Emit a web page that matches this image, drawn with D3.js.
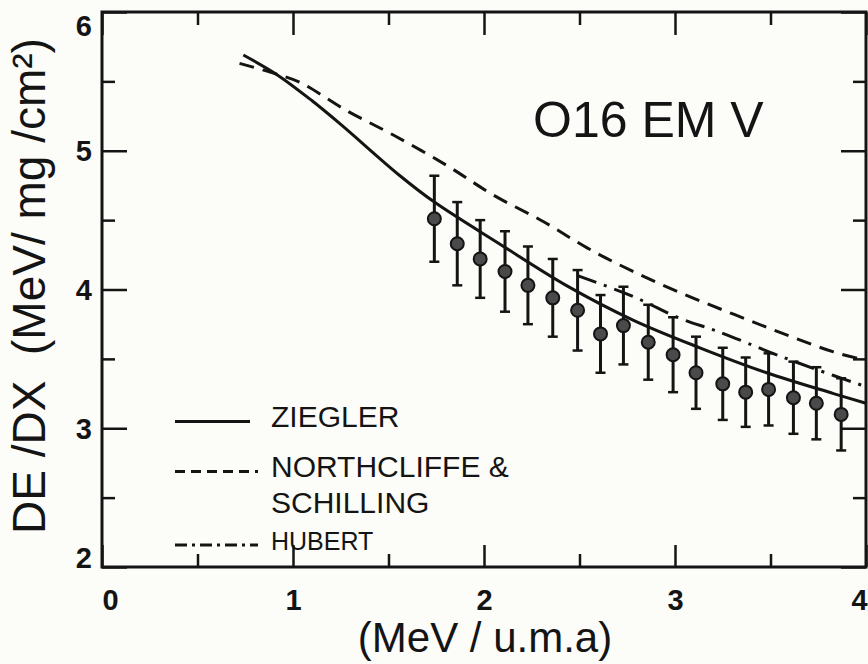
<!DOCTYPE html>
<html>
<head>
<meta charset="utf-8">
<script src="https://cdn.jsdelivr.net/npm/d3@7"></script>
<style>
  body { margin: 0; background: #fcfcf8; }
  svg { display: block; }
</style>
</head>
<body>
<div id="chart"></div>
<script>
// energy (MeV / u.m.a) and stopping power values
var zieglerX = [0.74, 0.92, 1.10, 1.25, 1.56, 1.74, 2.08, 2.43, 2.78, 3.13, 3.48, 3.83, 4.0];
var zieglerY = [5.69, 5.545, 5.36, 5.19, 4.82, 4.63, 4.33, 4.03, 3.78, 3.58, 3.40, 3.25, 3.18];

var northX = [0.72, 0.92, 1.04, 1.28, 1.53, 1.81, 2.05, 2.31, 2.54, 2.78, 3.04, 3.31, 3.57, 3.83, 4.0];
var northY = [5.63, 5.55, 5.49, 5.29, 5.11, 4.89, 4.68, 4.49, 4.30, 4.13, 3.97, 3.82, 3.68, 3.55, 3.49];

var hubertX = [2.49, 2.78, 3.03, 3.22, 3.55, 3.83, 4.0];
var hubertY = [4.10, 3.95, 3.79, 3.70, 3.52, 3.38, 3.30];

var expX = [1.74, 1.86, 1.98, 2.11, 2.23, 2.36, 2.49, 2.61, 2.73, 2.86, 2.99, 3.11, 3.25, 3.37, 3.49, 3.62, 3.74, 3.87];
var expY = [4.51, 4.33, 4.22, 4.13, 4.03, 3.94, 3.85, 3.68, 3.74, 3.62, 3.53, 3.40, 3.32, 3.26, 3.28, 3.22, 3.18, 3.10];
var expErr = [0.31, 0.30, 0.28, 0.29, 0.28, 0.28, 0.29, 0.28, 0.28, 0.27, 0.27, 0.26, 0.26, 0.25, 0.26, 0.26, 0.26, 0.26];

var xMajor = [0, 1, 2, 3, 4];
var xMinor = [0.5, 1.5, 2.5, 3.5];
var yMajor = [2, 3, 4, 5, 6];
var yMinor = [2.5, 3.5, 4.5, 5.5];

var legendLabels = ["ZIEGLER", "NORTHCLIFFE &", "SCHILLING", "HUBERT"];

var width = 868,
    height = 664;

var margin = { top: 12, right: 2, bottom: 97, left: 102 };

var font = "'Liberation Sans', Arial, sans-serif";

var svg = d3.select("#chart")
    .append("svg")
    .attr("width", width)
    .attr("height", height)
    .style("font-family", font);

var x = d3.scaleLinear()
    .domain([0, 4])
    .range([margin.left, width - margin.right]);

var y = d3.scaleLinear()
    .domain([2, 6])
    .range([height - margin.bottom, margin.top]);

var ink = "#141414";

// axes, ticks pointing inward on all four sides
function styleAxis(g) {
    g.select(".domain").remove();
    g.selectAll(".tick line").attr("stroke", ink).attr("stroke-width", 2.5);
    g.selectAll(".tick text")
        .attr("fill", ink)
        .attr("font-family", font)
        .attr("font-weight", "bold")
        .attr("font-size", "29px");
}

svg.append("g")
    .attr("transform", "translate(0," + y(2) + ")")
    .call(d3.axisBottom(x).tickValues(xMajor).tickSize(-22).tickPadding(22).tickFormat(d3.format("d")))
    .call(styleAxis)
    .call(g => g.selectAll(".tick text").attr("dx", d => d === 0 ? 8 : d === 4 ? -7 : 0));

svg.append("g")
    .attr("transform", "translate(0," + y(2) + ")")
    .call(d3.axisBottom(x).tickValues(xMinor).tickSize(-13).tickFormat(""))
    .call(styleAxis);

svg.append("g")
    .attr("transform", "translate(0," + y(6) + ")")
    .call(d3.axisTop(x).tickValues(xMajor).tickSize(-23).tickFormat(""))
    .call(styleAxis);

svg.append("g")
    .attr("transform", "translate(0," + y(6) + ")")
    .call(d3.axisTop(x).tickValues(xMinor).tickSize(-13).tickFormat(""))
    .call(styleAxis);

svg.append("g")
    .attr("transform", "translate(" + x(0) + ",0)")
    .call(d3.axisLeft(y).tickValues(yMajor).tickSize(-25).tickPadding(10).tickFormat(d3.format("d")))
    .call(styleAxis)
    .call(g => g.selectAll(".tick text").attr("dy", d => d === 6 ? "0.8em" : d === 2 ? "0.0em" : "0.35em"));

svg.append("g")
    .attr("transform", "translate(" + x(0) + ",0)")
    .call(d3.axisLeft(y).tickValues(yMinor).tickSize(-13).tickFormat(""))
    .call(styleAxis);

svg.append("g")
    .attr("transform", "translate(" + x(4) + ",0)")
    .call(d3.axisRight(y).tickValues(yMajor).tickSize(-25).tickFormat(""))
    .call(styleAxis);

svg.append("g")
    .attr("transform", "translate(" + x(4) + ",0)")
    .call(d3.axisRight(y).tickValues(yMinor).tickSize(-13).tickFormat(""))
    .call(styleAxis);

// frame
svg.append("rect")
    .attr("x", x(0))
    .attr("y", y(6))
    .attr("width", x(4) - x(0))
    .attr("height", y(2) - y(6))
    .attr("fill", "none")
    .attr("stroke", ink)
    .attr("stroke-width", 3);

// curves
var line = d3.line()
    .x(d => x(d[0]))
    .y(d => y(d[1]))
    .curve(d3.curveCatmullRom);

var curves = [
    { xs: zieglerX, ys: zieglerY, dash: null },
    { xs: northX, ys: northY, dash: "15,9" },
    { xs: hubertX, ys: hubertY, dash: "20,8,3,8" }
];

svg.append("g")
    .selectAll("path")
    .data(curves)
    .enter()
    .append("path")
    .attr("d", c => line(d3.zip(c.xs, c.ys)))
    .attr("fill", "none")
    .attr("stroke", ink)
    .attr("stroke-width", 3)
    .attr("stroke-dasharray", c => c.dash);

// experimental points with error bars
var points = d3.zip(expX, expY, expErr);

var pts = svg.append("g")
    .selectAll("g")
    .data(points)
    .enter()
    .append("g");

pts.append("line")
    .attr("x1", d => x(d[0]))
    .attr("x2", d => x(d[0]))
    .attr("y1", d => y(d[1] + d[2]))
    .attr("y2", d => y(d[1] - d[2]))
    .attr("stroke", ink)
    .attr("stroke-width", 3);

pts.selectAll(".cap")
    .data(d => [[d[0], d[1] + d[2]], [d[0], d[1] - d[2]]])
    .enter()
    .append("line")
    .attr("class", "cap")
    .attr("x1", d => x(d[0]) - 5)
    .attr("x2", d => x(d[0]) + 5)
    .attr("y1", d => y(d[1]))
    .attr("y2", d => y(d[1]))
    .attr("stroke", ink)
    .attr("stroke-width", 2.5);

pts.append("circle")
    .attr("cx", d => x(d[0]))
    .attr("cy", d => y(d[1]))
    .attr("r", 6.5)
    .attr("fill", "#4a4a4a")
    .attr("stroke", ink)
    .attr("stroke-width", 2);

// legend
var legendRows = [
    { label: legendLabels[0], ly: 421.5, ty: 427, size: 30, dash: null, x2: 250 },
    { label: legendLabels[1], ly: 471.5, ty: 477, size: 30, dash: "10,6", x2: 258 },
    { label: legendLabels[2], ly: null, ty: 513, size: 30, dash: null, x2: 0 },
    { label: legendLabels[3], ly: 545, ty: 550, size: 25, dash: "12,5,3,5", x2: 258 }
];

var legend = svg.append("g").attr("class", "legend");

legend.selectAll("line")
    .data(legendRows.filter(r => r.ly !== null))
    .enter()
    .append("line")
    .attr("x1", 175)
    .attr("x2", r => r.x2)
    .attr("y1", r => r.ly)
    .attr("y2", r => r.ly)
    .attr("stroke", ink)
    .attr("stroke-width", 3)
    .attr("stroke-dasharray", r => r.dash);

legend.selectAll("text")
    .data(legendRows)
    .enter()
    .append("text")
    .attr("x", 271)
    .attr("y", r => r.ty)
    .attr("font-size", r => r.size + "px")
    .attr("fill", ink)
    .text(r => r.label);

// titles
svg.append("text")
    .attr("x", 533)
    .attr("y", 137)
    .attr("font-size", "50px")
    .attr("fill", ink)
    .text("O16 EM V");

svg.append("text")
    .attr("x", 485)
    .attr("y", 652)
    .attr("text-anchor", "middle")
    .attr("font-size", "42px")
    .attr("fill", ink)
    .text("(MeV / u.m.a)");

svg.append("text")
    .attr("transform", "translate(45,286) rotate(-90)")
    .attr("text-anchor", "middle")
    .attr("font-size", "46px")
    .attr("fill", ink)
    .style("white-space", "pre")
    .text("DE /DX  (MeV/ mg /cm²)");
</script>
</body>
</html>
